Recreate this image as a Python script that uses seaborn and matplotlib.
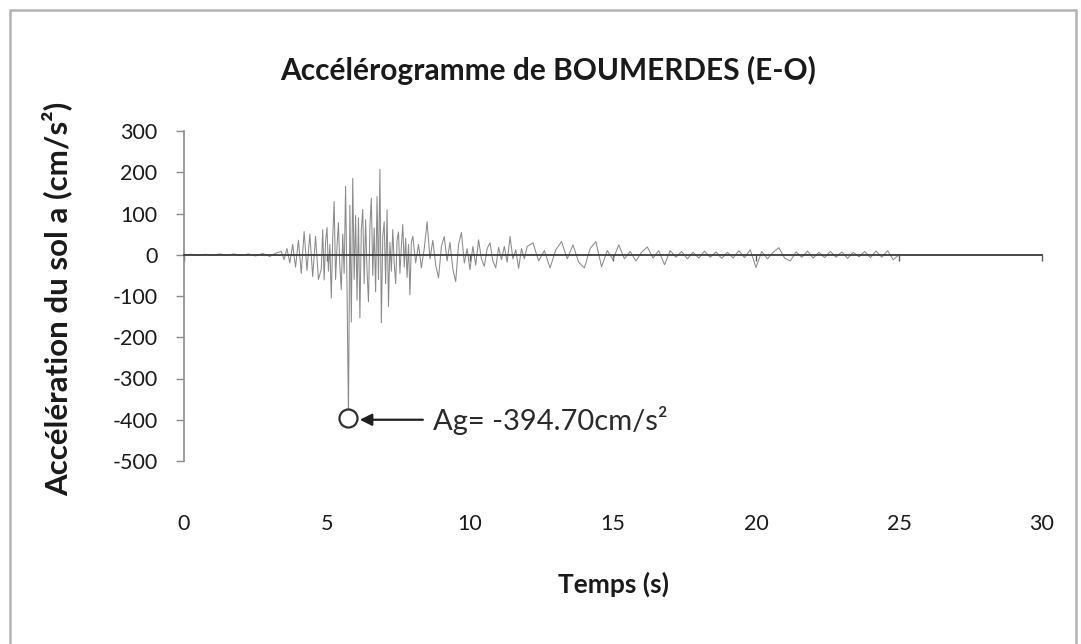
import numpy as np
import matplotlib
matplotlib.use("Agg")
import matplotlib.pyplot as plt
import seaborn as sns
from matplotlib.patches import Rectangle

# ---------------- data ----------------
# quiet pre-event part: t = 0 .. 3.25 s, step 0.25 s
acc_quiet = [0, 1, -1, 1, -1, 2, -1, 2, -2, 2, -3, 3, -4, 5]
# onset: t = 3.4 .. 4.7 s, step 0.1 s
acc_onset = [8, -12, 15, -20, 25, -30, 35, -45, 56, -38, 50, -53, 45, -60]
# strong motion: t = 4.8 .. 8.0 s, step 0.05 s
acc_strong = [-35, 61, -61, 30, 66, -40, 25, -105, 40, 129,
              -60, 20, 78, -30, -85, 50, -45, 166, -80, -394.70,
              120, -163, 185, -60, 95, -110, 90, -153, 60, 110,
              -70, 85, -40, -114, 70, 137, -50, 65, -90, 141,
              -60, 207, -165, 45, 80, -70, 109, -126, 30, -40,
              61, -20, -70, 35, 55, -45, 20, 73, -30, 40,
              -55, 25, -97, 30, 45]
# decay: t = 8.1 .. 12.0 s, step 0.1 s
acc_decay = [-20, 25, -32, 15, 80, -10, 35, -25, -56, 20,
             44, -15, 30, -35, -65, 25, 54, -20, 15, -36,
             20, -25, 36, -10, -28, 15, 29, -15, -32, 18,
             -12, 20, -18, 44, -10, 12, -33, 15, -10, 20]
# coda: t = 12.2 .. 25.0 s, step 0.2 s
acc_coda = [29, -15, 10, -32, 12, 32, -10, 24, -18, -32,
            15, 32, -29, 10, -12, 24, -10, 8, -15, 6,
            19, -8, 10, -24, 10, -6, 8, -10, 6, -8,
            9, -6, 7, -9, 6, -8, 10, -7, 12, -31,
            8, -10, 6, 17, -8, -15, 7, -6, 9, -8,
            6, -7, 8, -6, 7, -9, 6, -5, 8, -7,
            9, -6, 10, -12, 0]

t_quiet = np.round(np.arange(len(acc_quiet)) * 0.25, 3)
t_onset = np.round(3.4 + np.arange(len(acc_onset)) * 0.1, 3)
t_strong = np.round(4.8 + np.arange(len(acc_strong)) * 0.05, 3)
t_decay = np.round(8.1 + np.arange(len(acc_decay)) * 0.1, 3)
t_coda = np.round(12.2 + np.arange(len(acc_coda)) * 0.2, 3)

time = np.concatenate([t_quiet, t_onset, t_strong, t_decay, t_coda])
acc = np.concatenate([acc_quiet, acc_onset, acc_strong, acc_decay, acc_coda]).astype(float)

x_ticks = [0, 5, 10, 15, 20, 25, 30]
y_ticks = [300, 200, 100, 0, -100, -200, -300, -400, -500]
pga_time = 5.75
pga_value = -394.70

title = "Accélérogramme de BOUMERDES (E-O)"
xlabel = "Temps (s)"
ylabel = "Accélération du sol a (cm/s²)"
annot = "Ag= -394.70cm/s²"

# ---------------- style ----------------
sns.set_theme(style="white")
plt.rcParams["font.family"] = ["Lato", "DejaVu Sans"]

W, H = 1081, 644
fig = plt.figure(figsize=(W / 100, H / 100), dpi=100)
ax = fig.add_axes([184 / W, 1 - 461 / H, (1042 - 184) / W, (461 - 131) / H])

sns.lineplot(x=time, y=acc, ax=ax, color="#8a8a8a", linewidth=0.75,
             estimator=None, sort=False)

ax.set_xlim(0, 30)
ax.set_ylim(-500, 300)
ax.set_yticks(y_ticks)
ax.set_yticklabels([str(v) for v in y_ticks])
ax.set_xticks(x_ticks)

# main x axis: spine at y = 0, ticks pointing down, no labels
for s in ["top", "right"]:
    ax.spines[s].set_visible(False)
ax.spines["bottom"].set_position(("data", 0))
ax.spines["bottom"].set_color("#3c3c3c")
ax.spines["bottom"].set_linewidth(1.3)
ax.spines["left"].set_color("#8c8c8c")
ax.spines["left"].set_linewidth(1.2)
ax.tick_params(axis="x", direction="out", length=4, width=1.0,
               color="#5a5a5a", labelbottom=False, bottom=True)
ax.tick_params(axis="y", direction="out", length=6, width=1.0,
               color="#8c8c8c", left=True, pad=13, labelsize=15.5,
               labelcolor="#1a1a1a")

# tick labels at the bottom (low position)
sec = ax.secondary_xaxis("bottom")
sec.set_xticks(x_ticks)
sec.set_xticklabels([str(v) for v in x_ticks])
sec.spines["bottom"].set_visible(False)
sec.tick_params(axis="x", length=0, pad=38, labelsize=15.5, labelcolor="#1a1a1a")

# annotation of the peak
ax.plot([pga_time], [pga_value], marker="o", markersize=13,
        markerfacecolor="white", markeredgecolor="#303030",
        markeredgewidth=1.6, zorder=5)
ax.annotate("", xy=(6.05, -400), xytext=(8.45, -400),
            arrowprops=dict(arrowstyle="-|>,head_length=0.6,head_width=0.3",
                            color="#202020", lw=1.6), zorder=5)
ax.text(8.7, -403, annot, ha="left", va="center", fontsize=21,
        color="#2a2a2a")

# titles
fig.text(548 / W, 1 - 70 / H, title, ha="center", va="center",
         fontsize=21.5, fontweight="bold", color="#1a1a1a")
fig.text(613 / W, 1 - 584 / H, xlabel, ha="center", va="center",
         fontsize=19, fontweight="bold", color="#1a1a1a")
fig.text(57 / W, 1 - 299 / H, ylabel, ha="center", va="center",
         rotation=90, fontsize=22.5, fontweight="bold", color="#1a1a1a")

# outer frame of the chart area
fig.patches.append(Rectangle((10 / W, -0.02), (1076 - 10) / W, 1 - 10 / H + 0.02,
                             transform=fig.transFigure, fill=False,
                             edgecolor="#b4b4b4", linewidth=1.8))

fig.savefig("out.png", dpi=100, facecolor="white")
